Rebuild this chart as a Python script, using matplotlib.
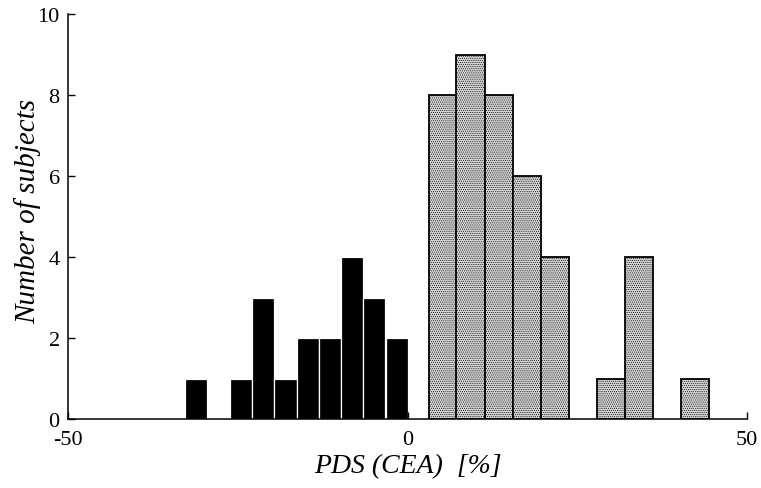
import matplotlib
matplotlib.use("Agg")
import matplotlib.pyplot as plt

# histogram of PDS values: negative group (black) and positive group (stippled gray)
neg_left = [-32.8, -26.2, -22.9, -19.6, -16.3, -13.0, -9.8, -6.5, -3.2]
neg_counts = [1, 1, 3, 1, 2, 2, 4, 3, 2]
neg_width = 3.25

pos_left = [3.1, 7.2, 11.4, 15.5, 19.6, 27.9, 32.0, 40.3]
pos_counts = [8, 9, 8, 6, 4, 1, 4, 1]
pos_width = 4.15

xticks = [-50, 0, 50]
yticks = [0, 2, 4, 6, 8, 10]

plt.rcParams["font.family"] = ["Liberation Serif", "DejaVu Serif"]
plt.rcParams["axes.unicode_minus"] = False
plt.rcParams["hatch.color"] = "#9a9a9a"
plt.rcParams["hatch.linewidth"] = 0.4

fig = plt.figure(figsize=(7.61, 4.89), dpi=100)
ax = fig.add_axes([0.0894, 0.1411, 0.8922, 0.8282])

ax.bar(neg_left, neg_counts, width=neg_width, align="edge",
       color="black", edgecolor="white", linewidth=0.9)
ax.bar(pos_left, pos_counts, width=pos_width, align="edge",
       color="#d2d2d2", edgecolor="black", linewidth=1.3, hatch="........")

ax.set_xlim(-50, 50)
ax.set_ylim(0, 10)
ax.set_xticks(xticks)
ax.set_yticks(yticks)
ax.set_xticklabels([str(t) for t in xticks])
ax.tick_params(direction="in", length=5, width=1, labelsize=16)
ax.tick_params(axis="x", pad=8)
ax.tick_params(axis="y", pad=6)

for s in ["top", "right"]:
    ax.spines[s].set_visible(False)
for s in ["left", "bottom"]:
    ax.spines[s].set_linewidth(1.1)

ax.set_xlabel("PDS (CEA)  [%]", fontsize=20, style="italic", labelpad=3)
ax.set_ylabel("Number of subjects", fontsize=21, style="italic")
ax.yaxis.set_label_coords(-0.059, 0.516)
ax.yaxis.label.set_verticalalignment("center")

fig.savefig("out.png", dpi=100)
